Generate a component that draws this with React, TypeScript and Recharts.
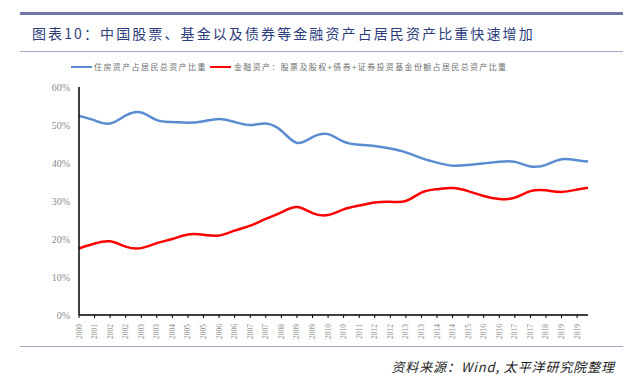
import { LineChart, Line, XAxis, YAxis } from "recharts";

const yearLabels = [
  "2000", "2001", "2002", "2002", "2003", "2003", "2004", "2005", "2005",
  "2006", "2006", "2007", "2007", "2008", "2009", "2009", "2010", "2010",
  "2011", "2012", "2012", "2013", "2013", "2014", "2014", "2015", "2016",
  "2016", "2017", "2017", "2018", "2019", "2019",
];

// position along the date axis (the last point sits a bit past the last label)
const periods = [
  0, 1, 2, 3, 4, 5, 6, 7, 8, 9, 10, 11, 12, 13, 14, 15, 16, 17, 18, 19, 20,
  21, 22, 23, 24, 25, 26, 27, 28, 29, 30, 31, 32, 32.7,
];

const housingShare = [
  52.4, 51.2, 50.4, 52.5, 53.3, 51.3, 50.8, 50.6, 51.0, 51.6, 50.8, 50.0,
  50.4, 48.5, 45.3, 46.8, 47.6, 45.6, 44.8, 44.5, 43.8, 42.8, 41.3, 40.1,
  39.3, 39.5, 39.9, 40.3, 40.3, 39.1, 39.5, 41.0, 40.7, 40.4,
];

const financialShare = [
  17.5, 18.8, 19.4, 18.0, 17.6, 18.9, 20.0, 21.2, 21.1, 20.9, 22.2, 23.5,
  25.3, 27.0, 28.4, 26.8, 26.3, 27.8, 28.8, 29.6, 29.8, 30.0, 32.2, 33.1,
  33.4, 32.6, 31.3, 30.5, 30.9, 32.6, 32.8, 32.4, 33.0, 33.5,
];

const yTicks = [0, 10, 20, 30, 40, 50, 60];

const data = periods.map((p, i) => ({
  p,
  housing: housingShare[i],
  financial: financialShare[i],
}));

const XTick = ({ x, y, payload }: any) => (
  <text
    x={x}
    y={y + 4}
    transform={`rotate(-90, ${x}, ${y + 4})`}
    textAnchor="end"
    dominantBaseline="central"
    fontSize={7.5}
    fontFamily="Liberation Serif"
    fill="#8a8a8a"
  >
    {yearLabels[payload.value]}
  </text>
);

export default function App() {
  return (
    <div
      style={{
        position: "absolute",
        left: 0,
        top: 0,
        width: 635,
        height: 387,
        background: "#fff",
        fontFamily: "'Noto Sans CJK SC'",
      }}
    >
      <div style={{ position: "absolute", left: 20, top: 12, width: 603, height: 3, background: "#6f76a3" }} />
      <div
        style={{
          position: "absolute",
          left: 32,
          top: 23,
          fontSize: 14,
          letterSpacing: 2.1,
          color: "#2d3d7c",
          whiteSpace: "nowrap",
          lineHeight: "20px",
        }}
      >
        图表10：中国股票、基金以及债券等金融资产占居民资产比重快速增加
      </div>
      <div style={{ position: "absolute", left: 20, top: 51, width: 603, height: 1, background: "#a5a8c4" }} />

      <div style={{ position: "absolute", left: 71, top: 66, width: 21, height: 2, background: "#5b8bd0" }} />
      <div
        style={{
          position: "absolute",
          left: 94,
          top: 61,
          fontSize: 8,
          letterSpacing: 1.4,
          color: "#707070",
          whiteSpace: "nowrap",
          lineHeight: "12px",
        }}
      >
        住房资产占居民总资产比重
      </div>
      <div style={{ position: "absolute", left: 210, top: 66, width: 21, height: 2, background: "#ff0000" }} />
      <div
        style={{
          position: "absolute",
          left: 234,
          top: 61,
          fontSize: 8,
          letterSpacing: 1.35,
          color: "#707070",
          whiteSpace: "nowrap",
          lineHeight: "12px",
        }}
      >
        金融资产：股票及股权+债券+证券投资基金份额占居民总资产比重
      </div>

      <div style={{ position: "absolute", left: 0, top: 0 }}>
        <LineChart
          width={635}
          height={387}
          data={data}
          margin={{ top: 87, right: 47, bottom: 42, left: 49 }}
        >
          <XAxis
            dataKey="p"
            type="number"
            domain={[0, 32.7]}
            ticks={yearLabels.map((_, i) => i)}
            interval={0}
            height={30}
            axisLine={{ stroke: "#000", strokeWidth: 1.5 }}
            tickLine={{ stroke: "#000" }}
            tickSize={3}
            tick={<XTick />}
          />
          <YAxis
            type="number"
            domain={[0, 60]}
            ticks={yTicks}
            width={30}
            axisLine={{ stroke: "#000", strokeWidth: 1.5 }}
            tickLine={false}
            tickSize={0}
            tickMargin={9}
            tickFormatter={(v: number) => `${v}%`}
            tick={{ fontSize: 10, fontFamily: "Liberation Serif", fill: "#8a8a8a" }}
          />
          <Line
            type="natural"
            dataKey="housing"
            stroke="#5b8bd0"
            strokeWidth={2.5}
            dot={false}
            isAnimationActive={false}
          />
          <Line
            type="natural"
            dataKey="financial"
            stroke="#ff0000"
            strokeWidth={2.5}
            dot={false}
            isAnimationActive={false}
          />
        </LineChart>
      </div>

      <div style={{ position: "absolute", left: 20, top: 346, width: 603, height: 1, background: "#a5a8c4" }} />
      <div
        style={{
          position: "absolute",
          right: 20,
          top: 357,
          fontSize: 13,
          fontStyle: "italic",
          letterSpacing: 0.9,
          color: "#222",
          whiteSpace: "nowrap",
          lineHeight: "20px",
        }}
      >
        资料来源：Wind, 太平洋研究院整理
      </div>
    </div>
  );
}
